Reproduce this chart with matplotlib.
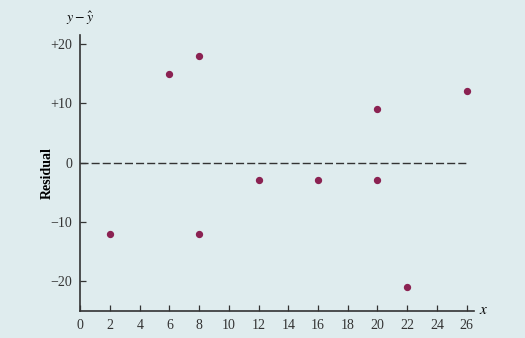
import matplotlib as mpl
mpl.use('Agg')
from matplotlib import pyplot as plt

# residual data
x_vals = [2, 6, 8, 8, 12, 16, 20, 20, 22, 26]
resid = [-12, 15, 18, -12, -3, -3, 9, -3, -21, 12]
x_ticks = list(range(0, 27, 2))
y_ticks = [-20, -10, 0, 10, 20]
y_labels = ['\u221220', '\u221210', '0', '+10', '+20']

bg = '#dfecee'
mpl.rc('font', family='Liberation Serif', size=10)
mpl.rc('mathtext', fontset='stix')

fig = plt.figure(figsize=(5.25, 3.38), dpi=100, facecolor=bg)
ax = fig.add_axes([0.153, 0.080, 0.750, 0.816], facecolor=bg)

ax.plot([0, 26], [0, 0], color='#333333', linestyle=(0, (5.8, 2.2)), linewidth=1.0)
ax.scatter(x_vals, resid, s=18, color='#8b2252', zorder=3)

ax.set_xlim(0, 26.5)
ax.set_ylim(-25, 21.5)
ax.set_xticks(x_ticks)
ax.set_yticks(y_ticks)
ax.set_yticklabels(y_labels)
ax.tick_params(direction='in', length=4, width=0.9, colors='#333333', labelsize=10, pad=6)
for s in ['top', 'right']:
    ax.spines[s].set_visible(False)
for s in ['left', 'bottom']:
    ax.spines[s].set_color('#333333')
    ax.spines[s].set_linewidth(1.2)

ax.set_ylabel('Residual', fontweight='bold')
ax.yaxis.set_label_coords(-0.068, 0.5)
ax.text(0.0, 1.03, r'$y - \hat{y}$', transform=ax.transAxes, ha='center', va='bottom', fontsize=10)
ax.text(1.012, 0.0, r'$x$', transform=ax.transAxes, ha='left', va='center', fontsize=11)

fig.savefig('out.png', dpi=100, facecolor=bg)
